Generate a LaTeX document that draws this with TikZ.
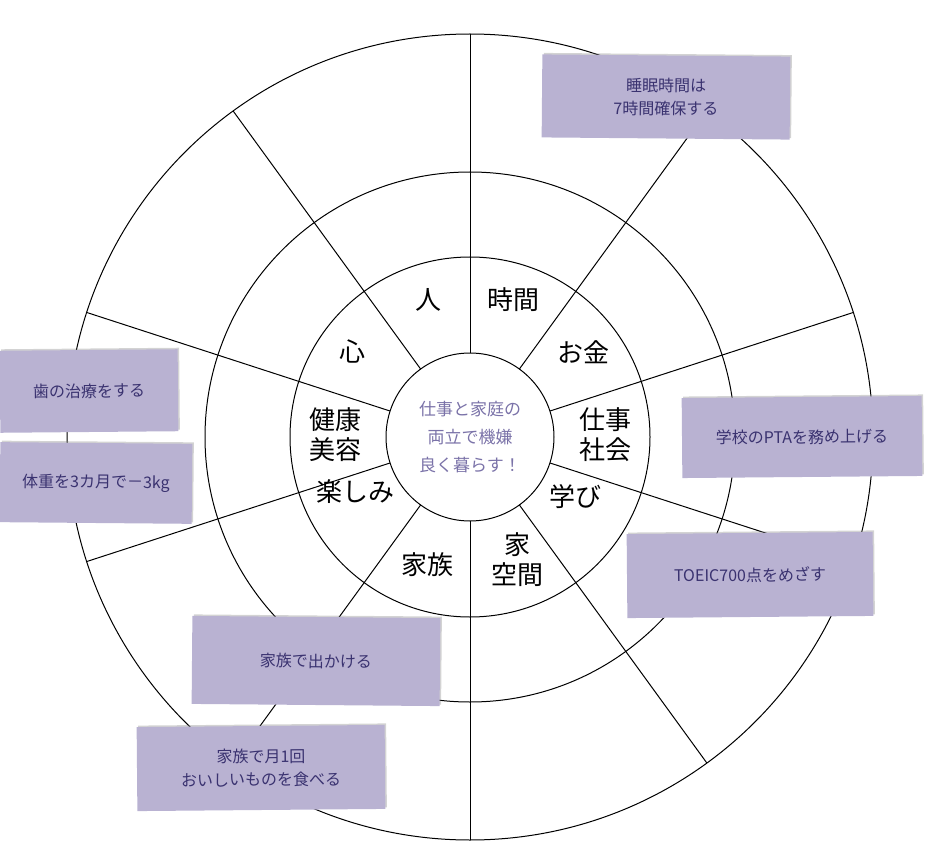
\documentclass[tikz,border=0pt]{standalone}
\usepackage{fontspec}
\setmainfont{Noto Sans CJK JP}
\usetikzlibrary{shadows,calc}
\definecolor{boxfill}{HTML}{B9B2D2}
\definecolor{boxtext}{HTML}{3A3270}
\definecolor{ctext}{HTML}{7A72A8}
\tikzset{
  ring/.style={draw=black, line width=1pt},
  lab/.style={font=\fontsize{26}{30}\selectfont, align=center, inner sep=0},
  note/.style={fill=boxfill, text=boxtext, font=\fontsize{16}{23}\selectfont, align=center, drop shadow={shadow xshift=1.5pt, shadow yshift=1.5pt, opacity=0.35}},
}
\begin{document}
\begin{tikzpicture}[x=1pt,y=-1pt]
\useasboundingbox (0,0) rectangle (940,861);
\coordinate (c) at (470,437);
\draw[ring] (c) circle (403);
\draw[ring] (c) circle (265);
\draw[ring] (c) circle (180);
\node[ring, circle, minimum size=168, inner sep=0] (hub) at (c) {};
\foreach \a in {90,54,18,-18,-54,-90,-126,-162,162,126}
  \draw[ring] ($(c)+(\a:84)$) -- ($(c)+(\a:403)$);
\node[text=ctext, font=\fontsize{17}{28}\selectfont, align=center] (ct) at (c) {仕事と家庭の\\両立で機嫌\\良く暮らす！};
\node[lab] (l1) at (428,300) {人};
\node[lab] (l2) at (513,300) {時間};
\node[lab] (l3) at (583,352) {お金};
\node[lab] (l4) at (605,435) {仕事\\社会};
\node[lab] (l5) at (575,497) {学び};
\node[lab] (l6) at (517,560) {家\\空間};
\node[lab] (l7) at (427,565) {家族};
\node[lab] (l8) at (355,492) {楽しみ};
\node[lab] (l9) at (335,435) {健康\\美容};
\node[lab] (l10) at (352,352) {心};
\node[note, minimum width=248, minimum height=83, rotate=-0.5] (n1) at (666,97) {睡眠時間は\\7時間確保する};
\node[note, minimum width=178, minimum height=82, rotate=0.5] (n2) at (89,391) {歯の治療をする};
\node[note, minimum width=192, minimum height=80, rotate=-0.5] (n3) at (96,483) {体重を3カ月で－3kg};
\node[note, minimum width=240, minimum height=80, rotate=0.5] (n4) at (802,437) {学校のPTAを務め上げる};
\node[note, minimum width=246, minimum height=84, rotate=0.5] (n5) at (750,575) {TOEIC700点をめざす};
\node[note, minimum width=248, minimum height=88, rotate=-0.5] (n6) at (316,661) {家族で出かける};
\node[note, minimum width=248, minimum height=84, rotate=0.5] (n7) at (261,768) {家族で月1回\\おいしいものを食べる};
\end{tikzpicture}
\end{document}
